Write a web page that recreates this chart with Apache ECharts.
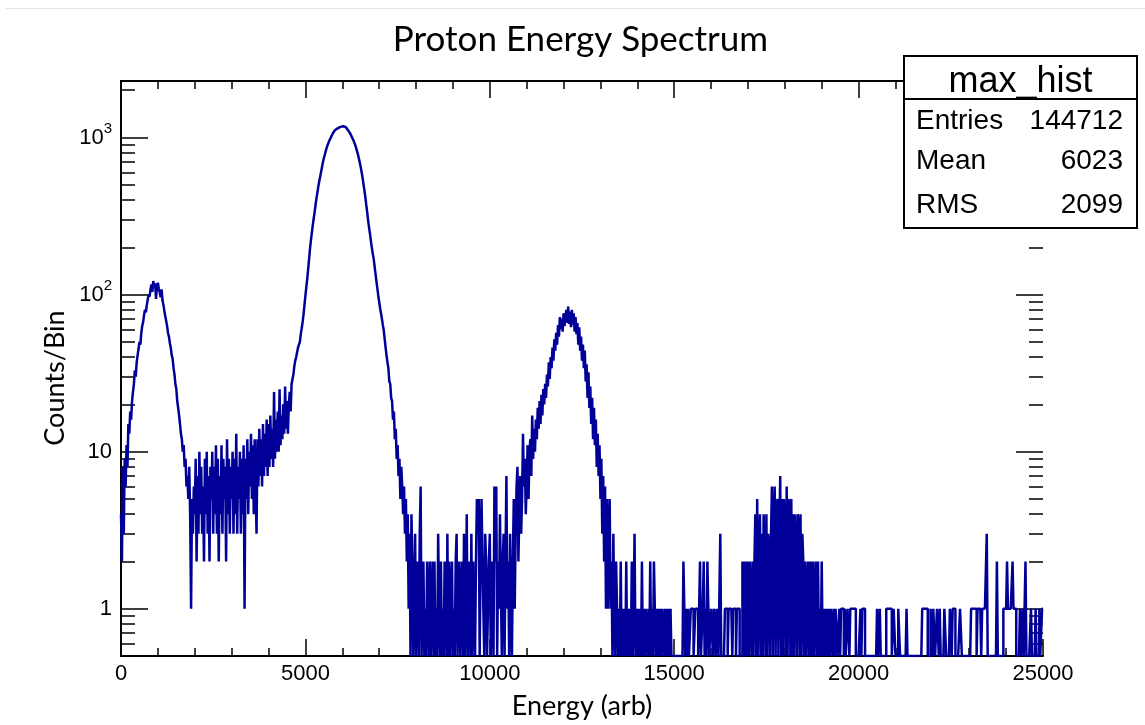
<!DOCTYPE html>
<html>
<head>
<meta charset="utf-8">
<title>Proton Energy Spectrum</title>
<script src="https://cdn.jsdelivr.net/npm/echarts@6/dist/echarts.min.js"></script>
<style>
  html, body { margin: 0; padding: 0; background: #ffffff; }
  #chart { width: 1145px; height: 725px; }
</style>
</head>
<body>
<div id="chart"></div>
<script>
// Histogram "max_hist": 1000 bins of 25 (arb) from 0 to 25000, counts per bin.
const BIN_WIDTH = 25;
const X_MIN = 0;
const X_MAX = 25000;

// Bins 0 - 199 (energy 0 - 5000)
const counts0to5k = [
  4, 2, 8, 3, 9, 6, 11, 8, 15, 13,
  18, 16, 21, 24, 27, 33, 30, 37, 41, 45,
  50, 48, 57, 63, 67, 74, 80, 77, 86, 93,
  100, 97, 108, 116, 104, 122, 111, 118, 94, 113,
  119, 109, 103, 96, 108, 92, 86, 79, 73, 68,
  63, 57, 54, 49, 46, 41, 39, 34, 31, 27,
  25, 21, 19, 17, 15, 13, 12, 10, 11, 8,
  9, 6, 7, 5, 8, 4, 1, 5, 3, 6,
  4, 9, 2, 7, 3, 10, 4, 8, 3, 6,
  2, 9, 4, 10, 3, 7, 2, 8, 5, 10,
  3, 8, 4, 11, 3, 9, 2, 7, 4, 11,
  3, 9, 5, 8, 2, 12, 4, 9, 3, 8,
  5, 10, 3, 9, 4, 13, 3, 8, 5, 10,
  3, 9, 4, 11, 1, 9, 5, 12, 4, 10,
  6, 13, 5, 11, 4, 12, 6, 3, 12, 6,
  14, 7, 12, 6, 15, 7, 13, 8, 16, 7,
  15, 8, 17, 9, 14, 8, 24, 9, 16, 10,
  18, 10, 25, 11, 17, 12, 20, 13, 26, 14,
  21, 13, 20, 24, 18, 27, 29, 31, 35, 38,
  40, 43, 46, 48, 50, 56, 61, 67, 75, 86
];

// Bins 200 - 399 (energy 5000 - 10000)
const counts5kto10k = [
  98, 112, 126, 145, 168, 196, 222, 248, 276, 305,
  335, 372, 410, 447, 487, 525, 563, 603, 648, 695,
  738, 775, 818, 856, 893, 925, 958, 985, 1012, 1040,
  1068, 1090, 1113, 1128, 1145, 1158, 1176, 1169, 1188, 1193,
  1180, 1186, 1170, 1162, 1155, 1138, 1118, 1097, 1075, 1052,
  1020, 992, 962, 930, 898, 860, 820, 780, 735, 690,
  648, 600, 555, 505, 462, 418, 372, 335, 298, 268,
  245, 220, 200, 183, 170, 152, 136, 122, 110, 99,
  90, 82, 76, 70, 64, 59, 52, 46, 41, 37,
  34, 28, 27, 22, 21, 16, 18, 12, 14, 9,
  11, 7, 9, 5, 8, 6, 4, 6, 3, 5,
  2, 4, 1, 3, 0, 4, 2, 0, 1, 3,
  0, 2, 1, 0, 3, 6, 0, 1, 2, 0,
  1, 0, 2, 1, 0, 2, 0, 1, 2, 0,
  2, 0, 1, 0, 3, 1, 0, 2, 0, 1,
  0, 2, 1, 0, 3, 0, 2, 0, 1, 2,
  0, 1, 0, 2, 3, 0, 1, 2, 0, 1,
  2, 0, 3, 0, 1, 4, 0, 2, 1, 0,
  3, 0, 2, 1, 0, 2, 5, 3, 5, 0,
  2, 5, 5, 1, 0, 3, 2, 0, 1, 2
];

// Bins 400 - 599 (energy 10000 - 15000)
const counts10kto15k = [
  3, 0, 2, 1, 0, 6, 2, 6, 0, 2,
  1, 4, 4, 0, 2, 3, 0, 2, 7, 1,
  2, 0, 3, 1, 0, 2, 5, 1, 3, 6,
  8, 2, 4, 7, 3, 5, 13, 6, 9, 4,
  6, 11, 5, 10, 12, 7, 17, 9, 14, 10,
  16, 12, 19, 14, 21, 15, 23, 17, 25, 20,
  27, 22, 31, 26, 37, 29, 40, 34, 46, 38,
  52, 44, 57, 48, 64, 54, 72, 60, 70, 58,
  76, 63, 72, 80, 66, 84, 65, 78, 62, 80,
  64, 76, 58, 72, 56, 66, 48, 62, 44, 54,
  38, 48, 34, 44, 28, 36, 22, 32, 19, 26,
  15, 22, 12, 19, 11, 16, 8, 13, 7, 11,
  5, 9, 3, 7, 2, 6, 1, 5, 1, 3,
  5, 1, 2, 0, 3, 1, 0, 2, 1, 0,
  1, 0, 2, 0, 1, 0, 1, 0, 2, 0,
  1, 0, 1, 0, 2, 0, 1, 3, 0, 1,
  0, 1, 0, 1, 0, 2, 0, 1, 0, 1,
  1, 0, 1, 0, 2, 0, 1, 0, 2, 1,
  0, 1, 0, 1, 0, 1, 0, 1, 1, 0,
  1, 0, 1, 0, 1, 0, 1, 0, 0, 0
];

// Bins 600 - 799 (energy 15000 - 20000)
const counts15kto20k = [
  0, 0, 0, 0, 0, 0, 0, 0, 0, 0,
  2, 2, 0, 1, 0, 1, 0, 0, 1, 1,
  1, 0, 0, 1, 1, 1, 0, 0, 2, 0,
  0, 1, 2, 0, 1, 0, 2, 1, 0, 0,
  1, 1, 0, 1, 1, 0, 1, 1, 0, 0,
  3, 0, 0, 0, 0, 1, 1, 1, 0, 1,
  1, 1, 1, 0, 1, 1, 1, 0, 1, 1,
  1, 0, 0, 0, 2, 0, 2, 0, 2, 0,
  2, 0, 2, 1, 0, 2, 0, 2, 4, 0,
  5, 0, 2, 4, 0, 3, 0, 4, 2, 0,
  4, 0, 3, 2, 0, 3, 6, 0, 3, 6,
  0, 4, 5, 0, 3, 7, 0, 5, 0, 5,
  3, 0, 6, 0, 5, 4, 0, 5, 0, 4,
  0, 4, 2, 0, 4, 3, 0, 4, 0, 3,
  2, 0, 2, 0, 1, 2, 0, 2, 0, 2,
  0, 2, 0, 1, 2, 0, 2, 0, 1, 0,
  2, 0, 1, 0, 1, 0, 1, 0, 1, 0,
  1, 1, 0, 1, 0, 1, 1, 0, 0, 1,
  0, 1, 1, 1, 0, 1, 0, 0, 1, 1,
  0, 1, 1, 1, 1, 1, 1, 0, 0, 0
];

// Bins 800 - 999 (energy 20000 - 25000)
const counts20kto25k = [
  0, 0, 1, 0, 1, 1, 1, 0, 0, 0,
  0, 0, 0, 0, 0, 0, 0, 0, 0, 0,
  1, 0, 0, 1, 0, 0, 0, 0, 0, 0,
  1, 1, 1, 1, 1, 1, 0, 0, 1, 1,
  0, 0, 0, 1, 1, 0, 0, 0, 0, 0,
  0, 0, 1, 0, 0, 0, 0, 0, 0, 0,
  0, 0, 0, 0, 0, 0, 0, 0, 0, 1,
  1, 1, 1, 1, 1, 0, 0, 0, 1, 1,
  0, 1, 1, 0, 0, 1, 1, 0, 1, 0,
  0, 0, 0, 1, 1, 0, 0, 0, 0, 1,
  1, 0, 1, 1, 1, 0, 0, 0, 0, 0,
  1, 1, 0, 0, 0, 0, 0, 0, 0, 0,
  0, 0, 1, 1, 1, 1, 1, 1, 0, 1,
  1, 1, 1, 0, 1, 1, 1, 1, 1, 3,
  0, 0, 0, 0, 0, 0, 0, 0, 0, 0,
  2, 0, 0, 0, 0, 0, 0, 1, 1, 1,
  1, 2, 1, 1, 1, 1, 1, 2, 1, 1,
  1, 0, 0, 0, 0, 1, 0, 0, 1, 0,
  0, 2, 0, 0, 0, 0, 0, 1, 0, 0,
  0, 0, 1, 0, 0, 0, 1, 0, 0, 1
];

// Axis ticks
const xMajorStep = 5000;
const xMinorPerMajor = 5;
const yMajorTicks = [1, 10, 100, 1000];
const yMinorTicks = [0.6, 0.7, 0.8, 0.9,
  2, 3, 4, 5, 6, 7, 8, 9,
  20, 30, 40, 50, 60, 70, 80, 90,
  200, 300, 400, 500, 600, 700, 800, 900,
  2000];
const Y_MIN = 0.5;
const Y_MAX = 2290;

// Statistics box
const statsName = 'max_hist';
const statsRows = [
  ['Entries', '144712'],
  ['Mean', '6023'],
  ['RMS', '2099']
];

const chartTitle = 'Proton Energy Spectrum';
const xTitle = 'Energy (arb)';
const yTitle = 'Counts/Bin';

// ---------------------------------------------------------------------------
const counts = counts0to5k.concat(counts5kto10k, counts10kto15k, counts15kto20k, counts20kto25k);

// Empty bins sit on the lower edge of the log frame.
const stepData = counts.map((c, i) => [X_MIN + i * BIN_WIDTH, c > 0 ? c : Y_MIN]);
stepData.push([X_MAX, stepData[stepData.length - 1][1]]);

const LINE_COLOR = '#000099';
const AXIS_COLOR = '#000000';
const TICK_FONT = '"Liberation Sans", Arial, Helvetica, sans-serif';
const TITLE_FONT = 'Lato, "Open Sans", sans-serif';

const logMin = Math.log10(Y_MIN);
const logMax = Math.log10(Y_MAX);
const toLog = arr => arr.map(v => Math.log10(v));

function tickAxis(position, values, length, withLabels) {
  return {
    type: 'value',
    position: position,
    min: logMin,
    max: logMax,
    offset: 0,
    axisLine: { show: false },
    splitLine: { show: false },
    axisTick: {
      show: true, inside: true, length: length, customValues: toLog(values),
      lineStyle: { color: AXIS_COLOR, width: 1.5 }
    },
    axisLabel: withLabels ? {
      show: true,
      customValues: toLog(values),
      margin: 9,
      color: '#000',
      fontFamily: TICK_FONT,
      fontSize: 22,
      formatter: function (v) {
        const n = Math.round(v);
        if (n === 0) return '{b|1}';
        if (n === 1) return '{b|10}';
        return '{b|10}{sup|' + n + '}';
      },
      rich: {
        b: { fontFamily: TICK_FONT, fontSize: 22, color: '#000', verticalAlign: 'bottom', lineHeight: 22 },
        sup: { fontFamily: TICK_FONT, fontSize: 15, color: '#000', verticalAlign: 'bottom', lineHeight: 15, padding: [0, 0, 12, 0] }
      }
    } : { show: false }
  };
}

function xAxisDef(position, withLabels) {
  return {
    type: 'value',
    position: position,
    min: X_MIN,
    max: X_MAX,
    interval: xMajorStep,
    axisLine: { show: true, onZero: false, lineStyle: { color: AXIS_COLOR, width: 2 } },
    axisTick: { show: true, inside: true, length: 17, lineStyle: { color: AXIS_COLOR, width: 1.5 } },
    minorTick: { show: true, splitNumber: xMinorPerMajor, length: 8, lineStyle: { color: AXIS_COLOR, width: 1.5 } },
    splitLine: { show: false },
    minorSplitLine: { show: false },
    axisLabel: withLabels ? {
      show: true, margin: 7, color: '#000', fontFamily: TICK_FONT, fontSize: 22,
      showMinLabel: true, showMaxLabel: true,
      formatter: v => String(v)
    } : { show: false },
    name: withLabels ? xTitle : '',
    nameLocation: 'middle',
    nameGap: 37,
    nameTextStyle: { fontFamily: TITLE_FONT, fontSize: 27, color: '#000' }
  };
}

const GRID = { left: 121, right: 102, top: 81, bottom: 69 };

const statsBox = { x: 904, y: 56, w: 233, h: 172, headerY: 99 };
const rowCenters = [121, 161.5, 205];

const graphics = [
  // faint rule across the top of the page
  { type: 'line', z: 1, shape: { x1: 6, y1: 8.5, x2: 1145, y2: 8.5 }, style: { stroke: '#e4e4e4', lineWidth: 1 } },
  { type: 'text', x: 580.5, y: 40, z: 10, style: {
      text: chartTitle, fill: '#000', fontFamily: TITLE_FONT, fontSize: 35, align: 'center', verticalAlign: 'middle' } },
  { type: 'text', x: 55, y: 378, rotation: Math.PI / 2, z: 10, style: {
      text: yTitle, fill: '#000', fontFamily: TITLE_FONT, fontSize: 27, align: 'center', verticalAlign: 'middle' } },
  // statistics box
  { type: 'rect', z: 100, shape: { x: statsBox.x, y: statsBox.y, width: statsBox.w, height: statsBox.h },
    style: { fill: '#ffffff', stroke: '#000', lineWidth: 2 } },
  { type: 'line', z: 101, shape: { x1: statsBox.x, y1: statsBox.headerY, x2: statsBox.x + statsBox.w, y2: statsBox.headerY },
    style: { stroke: '#000', lineWidth: 2 } },
  { type: 'text', z: 101, x: statsBox.x + statsBox.w / 2, y: 82, style: {
      text: statsName, fill: '#000', fontFamily: TICK_FONT, fontSize: 36, align: 'center', verticalAlign: 'middle' } }
];
statsRows.forEach((row, k) => {
  graphics.push({ type: 'text', z: 101, x: 916, y: rowCenters[k], style: {
    text: row[0], fill: '#000', fontFamily: TICK_FONT, fontSize: 28, align: 'left', verticalAlign: 'middle' } });
  graphics.push({ type: 'text', z: 101, x: 1123, y: rowCenters[k], style: {
    text: row[1], fill: '#000', fontFamily: TICK_FONT, fontSize: 28, align: 'right', verticalAlign: 'middle' } });
});

const chart = echarts.init(document.getElementById('chart'), null, { renderer: 'canvas' });
chart.setOption({
  animation: false,
  backgroundColor: '#ffffff',
  grid: GRID,
  xAxis: [xAxisDef('bottom', true), xAxisDef('top', false)],
  yAxis: [
    {
      type: 'log', logBase: 10, min: Y_MIN, max: Y_MAX, position: 'left',
      axisLine: { show: true, lineStyle: { color: AXIS_COLOR, width: 2 } },
      axisTick: { show: false }, axisLabel: { show: false }, splitLine: { show: false }
    },
    {
      type: 'log', logBase: 10, min: Y_MIN, max: Y_MAX, position: 'right',
      axisLine: { show: true, lineStyle: { color: AXIS_COLOR, width: 2 } },
      axisTick: { show: false }, axisLabel: { show: false }, splitLine: { show: false }
    },
    tickAxis('left', yMajorTicks, 27, true),
    tickAxis('left', yMinorTicks, 14, false),
    tickAxis('right', yMajorTicks, 27, false),
    tickAxis('right', yMinorTicks, 14, false)
  ],
  series: [{
    type: 'line',
    name: statsName,
    xAxisIndex: 0,
    yAxisIndex: 0,
    step: 'end',
    data: stepData,
    showSymbol: false,
    symbol: 'none',
    clip: true,
    lineStyle: { color: LINE_COLOR, width: 2.5 },
    z: 3
  }],
  graphic: graphics
});
</script>
</body>
</html>
